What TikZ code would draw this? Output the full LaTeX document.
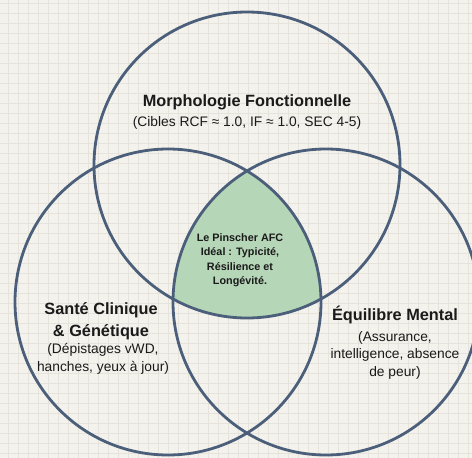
\documentclass[tikz,border=0pt]{standalone}
\usepackage{fontspec}
\setmainfont{Liberation Sans}
\definecolor{bgc}{HTML}{F4F2ED}
\definecolor{gridc}{HTML}{E6E3DC}
\definecolor{ringc}{HTML}{4B5F7A}
\definecolor{greenc}{HTML}{B6D6B8}
\definecolor{textc}{HTML}{1A1A1A}
\begin{document}
\begin{tikzpicture}[x=1pt,y=-1pt,
  ring/.style={draw=ringc, line width=2.8pt},
  gridline/.style={draw=gridc, line width=0.5pt},
  ttl/.style={font=\bfseries\fontsize{16.3}{22}\selectfont, align=center, text=textc, inner sep=0pt},
  sub/.style={font=\fontsize{13.8}{18}\selectfont, align=center, text=textc, inner sep=0pt},
  mid/.style={font=\bfseries\fontsize{10.8}{14.5}\selectfont, align=center, text=textc, inner sep=0pt}]
\useasboundingbox (0,0) rectangle (472,458);
\clip (0,0) rectangle (472,458);
\fill[bgc] (0,0) rectangle (472,458);
\foreach \i in {8,18,...,468} \draw[gridline] (\i,0) -- (\i,458);
\foreach \j in {3,13,...,453} \draw[gridline] (0,\j) -- (472,\j);
\coordinate (ct) at (247,165);
\coordinate (cl) at (168,302);
\coordinate (cr) at (326,302);
\begin{scope}
  \clip (ct) circle (153);
  \clip (cl) circle (153);
  \fill[greenc] (cr) circle (153);
\end{scope}
\draw[ring] (ct) circle (153);
\draw[ring] (cl) circle (153);
\draw[ring] (cr) circle (153);
\node[ttl] (mtitle) at (247,102) {Morphologie Fonctionnelle};
\node[sub] (msub) at (247,123) {(Cibles RCF ≈ 1.0, IF ≈ 1.0, SEC 4-5)};
\node[mid] (center) at (240,260) {Le Pinscher AFC\\Idéal : Typicité,\\Résilience et\\Longévité.};
\node[ttl] (stitle) at (101,321) {Santé Clinique\\\& Génétique};
\node[sub] (ssub) at (103,359) {(Dépistages vWD,\\hanches, yeux à jour)};
\node[ttl] (etitle) at (395,315) {Équilibre Mental};
\node[sub,font=\fontsize{13.8}{17.5}\selectfont] (esub) at (395,355) {(Assurance,\\intelligence, absence\\de peur)};
\end{tikzpicture}
\end{document}
